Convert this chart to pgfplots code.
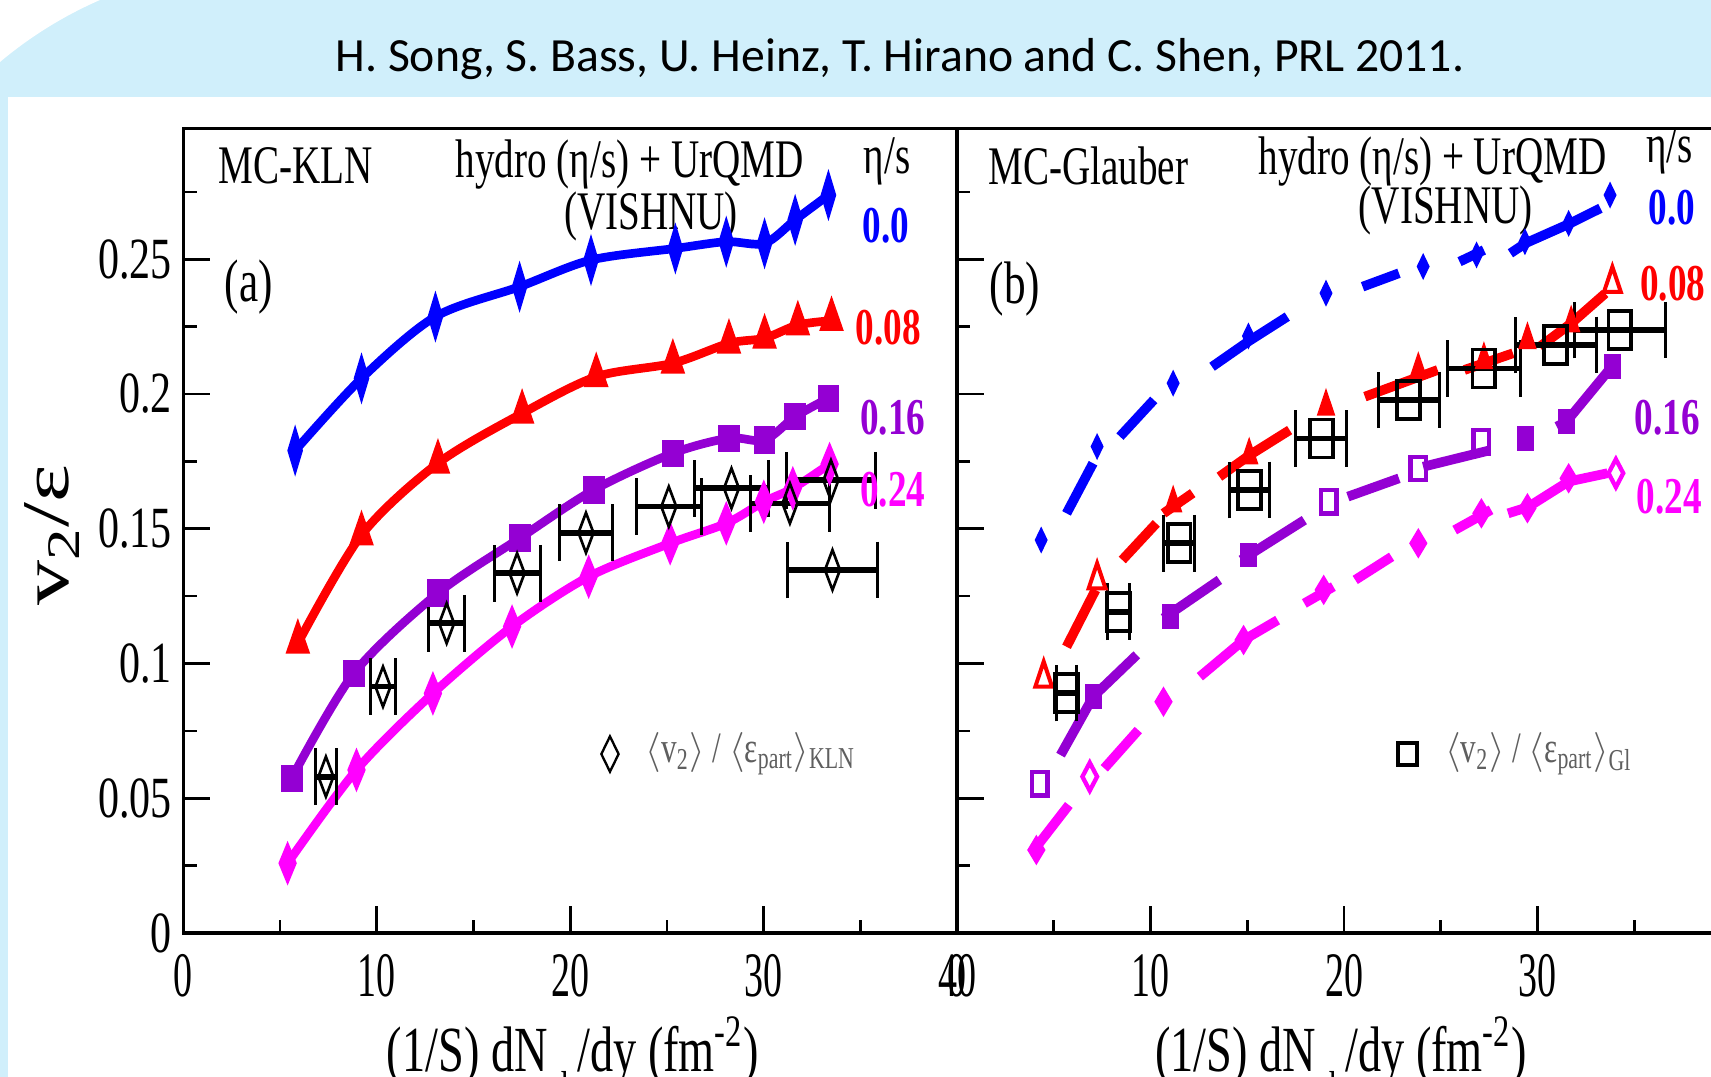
\documentclass[border=0pt]{standalone}
\usepackage{fontspec}
\setmainfont{Liberation Serif}[FakeStretch=0.72]
\newfontfamily\titlefont{Carlito}
\newfontfamily\narrowserif{Liberation Serif}[FakeStretch=0.6]
\newfontfamily\tallserif{Liberation Serif}[FakeStretch=1.35]
\usepackage{pgfplots}
\pgfplotsset{compat=1.18}

\definecolor{slide}{RGB}{208,239,251}
\definecolor{cblue}{RGB}{0,0,255}
\definecolor{cred}{RGB}{255,0,0}
\definecolor{cvio}{RGB}{148,0,211}
\definecolor{cmag}{RGB}{255,0,255}
\definecolor{legtext}{RGB}{95,95,95}

\newcommand{\labfont}{\fontsize{16.3}{18}\selectfont}
\newcommand{\valfont}{\bfseries\fontsize{15.5}{17}\selectfont}
\newcommand{\panfont}{\fontsize{18}{20}\selectfont}
\newcommand{\legfont}{\fontsize{13}{15}\selectfont}
\newcommand{\xlabfont}{\fontsize{19.3}{21}\selectfont}

\pgfplotsset{
  panel/.style={
    scale only axis, width=232.2pt, height=241.26pt,
    xmin=0, xmax=40, ymin=0, ymax=0.2984,
    xtick={0,10,20,30,40}, minor xtick={5,15,25,35},
    ytick={0,0.05,0.1,0.15,0.2,0.25},
    minor ytick={0.025,0.075,0.125,0.175,0.225,0.275},
    xtick pos=left, ytick pos=left, tick align=inside,
    major tick length=8pt, minor tick length=4pt,
    every tick/.style={black, line width=0.8pt},
    axis line style={line width=1pt},
    yticklabel style={font=\fontsize{17.5}{19}\selectfont},
    xticklabel style={font=\narrowserif\fontsize{19}{21}\selectfont, yshift=-3pt},
    xticklabels={0,10,20,30,40},
    unbounded coords=jump,
  },
  model/.style={line width=2.6pt},
  dash/.style={line width=2.9pt},
  xerr/.style={
    error bars/x dir=both, error bars/x explicit,
    error bars/error mark=|,
    error bars/error bar style={line width=1.7pt, black},
    error bars/error mark options={black, line width=0.9pt, mark size=8.5pt},
  },
}

\begin{document}
\begin{tikzpicture}
\path[use as bounding box] (0,0) rectangle (513.3pt,323.1pt);
\clip (0,0) rectangle (513.3pt,323.1pt);
\begin{scope}[x=0.3pt,y=0.3pt]
% slide background
\fill[slide] (0,0) rectangle (1711,1077);
\fill[white] (0,1077) -- (100,1077) arc[start angle=113.57, end angle=130.04, radius=410.7] -- cycle;
\fill[white] (7.5,0) rectangle (1711,980);
\node[anchor=base, inner sep=0pt, font=\titlefont\fontsize{14.3}{17}\selectfont] at (900,1005)
  {H. Song, S. Bass, U. Heinz, T. Hirano and C. Shen, PRL 2011.};
\end{scope}

% ---------------- panel (a): MC-KLN ----------------
\begin{axis}[panel, at={(54.99pt,43.2pt)}, anchor=south west,
  yticklabels={0,0.05,0.1,0.15,0.2,0.25}]

\addplot[cblue, model, smooth, mark=diamond*, mark size=3.3pt, mark options={xscale=0.4}] coordinates {
  (5.78,0.1790)(9.21,0.2058)(13.03,0.2287)(17.38,0.2398)(21.07,0.2497)
  (25.43,0.2540)(28.06,0.2565)(30.04,0.2559)(31.62,0.2646)(33.34,0.2738)};
\addplot[cred, model, smooth, mark=triangle*, mark size=3.6pt, mark options={xscale=0.6}] coordinates {
  (5.92,0.1075)(9.21,0.1477)(13.16,0.1743)(17.51,0.1928)(21.34,0.2064)
  (25.30,0.2114)(28.20,0.2188)(30.04,0.2207)(31.76,0.2256)(33.50,0.2272)};
\addplot[cvio, model, smooth, mark=square*, mark size=2.8pt, mark options={xscale=0.7}] coordinates {
  (5.60,0.0574)(8.82,0.0964)(13.16,0.1261)(17.39,0.1465)(21.21,0.1644)
  (25.30,0.1780)(28.20,0.1836)(30.04,0.1829)(31.62,0.1916)(33.34,0.1984)};
\addplot[cmag, model, smooth, mark=diamond*, mark size=3.3pt, mark options={xscale=0.55}] coordinates {
  (5.39,0.0259)(8.95,0.0605)(12.90,0.0889)(16.99,0.1137)(20.95,0.1322)
  (25.16,0.1446)(28.06,0.1520)(30.00,0.1600)(31.50,0.1650)(33.40,0.1740)};

% data <v2>/<eps_part> KLN
\addplot[only marks, black, mark=diamond, mark size=6pt,
  mark options={xscale=0.5, line width=0.8pt}, xerr] coordinates {
  (7.37,0.0580) +- (0.53,0)
  (10.32,0.0914) +- (0.67,0)
  (13.61,0.1149) +- (0.92,0)
  (17.25,0.1335) +- (1.19,0)
  (20.81,0.1485) +- (1.36,0)
  (25.09,0.1582) +- (1.67,0)
  (28.33,0.1650) +- (1.90,0)
  (31.35,0.1594) +- (2.04,0)
  (33.47,0.1680) +- (2.30,0)
  (33.55,0.1347) +- (2.30,0)};

\addplot[only marks, black, mark=diamond, mark size=5.3pt, mark options={xscale=0.65, line width=0.7pt}]
  coordinates {(22.05,0.0664)};
\node[anchor=west, inner sep=0pt, font=\legfont, text=legtext] at (23.86,0.0664)
  {$\langle$v\textsubscript{2}$\rangle$ / $\langle$ε\textsubscript{part}$\rangle$\textsubscript{KLN}};

\node[anchor=west, inner sep=0pt, font=\labfont] at (1.8,0.2846) {MC-KLN};
\node[inner sep=0pt, font=\labfont] at (23.07,0.2853) {hydro (η/s) + UrQMD};
\node[inner sep=0pt, font=\labfont] at (24.17,0.2660) {(VISHNU)};
\node[inner sep=0pt, font=\labfont] at (36.38,0.2863) {η/s};
\node[inner sep=0pt, font=\valfont, text=cblue] at (36.32,0.2624) {0.0};
\node[inner sep=0pt, font=\valfont, text=cred] at (36.43,0.2247) {0.08};
\node[inner sep=0pt, font=\valfont, text=cvio] at (36.66,0.1911) {0.16};
\node[inner sep=0pt, font=\valfont, text=cmag] at (36.66,0.1644) {0.24};
\node[inner sep=0pt, font=\panfont] at (3.38,0.2397) {(a)};
\end{axis}

% ---------------- panel (b): MC-Glauber ----------------
\begin{axis}[panel, at={(287.1pt,43.2pt)}, anchor=south west, yticklabels={}]

% dashed curves, one visible dash per run
\addplot[cblue, dash] coordinates {
  (5.66,0.1557)(7.03,0.1743) (nan,nan)
  (8.42,0.1842)(10.17,0.1978) (nan,nan)
  (13.18,0.2101)(15.06,0.2195)(17.07,0.2287) (nan,nan)
  (20.96,0.2398)(22.84,0.2448) (nan,nan)
  (25.97,0.2491)(27.23,0.2534) (nan,nan)
  (28.60,0.2522)(29.40,0.2560)(31.60,0.2630)(33.25,0.2689)};
\addplot[only marks, cblue, mark=diamond*, mark size=3.6pt, mark options={xscale=0.64}] coordinates {
  (4.35,0.1458)(7.24,0.1805)(11.17,0.2040)(15.06,0.2215)(19.07,0.2374)
  (24.09,0.2473)(26.85,0.2516)(29.35,0.2565)(31.61,0.2633)(33.75,0.2738)};

\addplot[cred, dash] coordinates {
  (5.66,0.1062)(7.16,0.1273) (nan,nan)
  (8.54,0.1384)(10.30,0.1520) (nan,nan)
  (10.67,0.1557)(12.18,0.1632) (nan,nan)
  (13.56,0.1693)(15.10,0.1772)(17.19,0.1866) (nan,nan)
  (21.08,0.1990)(24.84,0.2089) (nan,nan)
  (26.22,0.2089)(28.73,0.2151) (nan,nan)
  (30.11,0.2175)(31.74,0.2262)(33.50,0.2373)};
\addplot[only marks, cred, mark=triangle*, mark size=5pt, mark options={xscale=0.58}] coordinates {
  (11.17,0.1594)(15.10,0.1772)(19.07,0.1953)(23.84,0.2089)(27.23,0.2126)
  (29.48,0.2200)(31.74,0.2262)};
\addplot[only marks, cred, mark=triangle, mark size=5pt, mark options={xscale=0.58, line width=1.2pt, fill=white}] coordinates {
  (4.48,0.0945)(7.24,0.1310)(33.87,0.2410)};

\addplot[cvio, dash] coordinates {
  (5.35,0.0660)(7.04,0.0877)(9.29,0.1032) (nan,nan)
  (10.67,0.1168)(13.56,0.1310) (nan,nan)
  (14.69,0.1384)(17.95,0.1532) (nan,nan)
  (20.20,0.1619)(22.84,0.1687) (nan,nan)
  (24.09,0.1730)(27.48,0.1790) (nan,nan)
  (30.99,0.1879)(31.49,0.1897)(34.12,0.2126)};
\addplot[only marks, cvio, mark=square*, mark size=3.5pt, mark options={xscale=0.67}] coordinates {
  (7.04,0.0877)(11.05,0.1174)(15.06,0.1403)(29.36,0.1835)(31.49,0.1897)(33.87,0.2101)};
\addplot[only marks, cvio, mark=square, mark size=3.5pt, mark options={xscale=0.67, line width=1.3pt, fill=white}] coordinates {
  (4.28,0.0553)(19.20,0.1600)(23.84,0.1724)(27.10,0.1823)};

\addplot[cmag, dash] coordinates {
  (4.00,0.0310)(5.78,0.0475) (nan,nan)
  (7.61,0.0611)(9.37,0.0753) (nan,nan)
  (12.55,0.0951)(14.81,0.1087)(16.57,0.1161) (nan,nan)
  (17.95,0.1223)(19.45,0.1285) (nan,nan)
  (20.58,0.1310)(22.46,0.1396) (nan,nan)
  (25.72,0.1495)(27.60,0.1570) (nan,nan)
  (28.48,0.1557)(29.50,0.1580)(31.60,0.1675)(33.62,0.1706)};
\addplot[only marks, cmag, mark=diamond*, mark size=4.2pt, mark options={xscale=0.8}] coordinates {
  (4.10,0.0308)(10.67,0.0858)(14.81,0.1087)(18.95,0.1273)(23.84,0.1446)
  (27.10,0.1557)(29.48,0.1576)(31.61,0.1687)};
\addplot[only marks, cmag, mark=diamond, mark size=4.2pt, mark options={xscale=0.7, line width=1.3pt, fill=white}] coordinates {
  (6.86,0.0580)(34.05,0.1706)};

% data <v2>/<eps_part> Gl
\addplot[only marks, black, mark=square, mark size=5.7pt,
  mark options={xscale=0.6, line width=1.1pt}, xerr] coordinates {
  (5.66,0.0890) +- (0.50,0)
  (8.34,0.1192) +- (0.56,0)
  (11.48,0.1446) +- (0.81,0)
  (15.11,0.1644) +- (1.04,0)
  (18.83,0.1835) +- (1.32,0)
  (23.34,0.1978) +- (1.57,0)
  (27.23,0.2095) +- (1.88,0)
  (30.94,0.2182) +- (2.09,0)
  (34.25,0.2237) +- (2.35,0)};

\addplot[only marks, black, mark=square, mark size=3.3pt, mark options={xscale=0.87, line width=1.2pt}]
  coordinates {(23.30,0.0664)};
\node[anchor=west, inner sep=0pt, font=\legfont, text=legtext] at (25.2,0.0664)
  {$\langle$v\textsubscript{2}$\rangle$ / $\langle$ε\textsubscript{part}$\rangle$\textsubscript{Gl}};

\node[anchor=west, inner sep=0pt, font=\labfont] at (1.58,0.2846) {MC-Glauber};
\node[inner sep=0pt, font=\labfont] at (24.58,0.2863) {hydro (η/s) + UrQMD};
\node[inner sep=0pt, font=\labfont] at (25.26,0.2680) {(VISHNU)};
\node[inner sep=0pt, font=\labfont] at (36.82,0.2903) {η/s};
\node[inner sep=0pt, font=\valfont, text=cblue] at (36.94,0.2693) {0.0};
\node[inner sep=0pt, font=\valfont, text=cred] at (36.99,0.2410) {0.08};
\node[inner sep=0pt, font=\valfont, text=cvio] at (36.71,0.1911) {0.16};
\node[inner sep=0pt, font=\valfont, text=cmag] at (36.82,0.1620) {0.24};
\node[inner sep=0pt, font=\panfont] at (2.99,0.2389) {(b)};
\end{axis}

% axis titles
\begin{scope}[x=0.3pt,y=0.3pt]
\node[rotate=90, inner sep=0pt, font=\tallserif\fontsize{20}{22}\selectfont] at (52,542) {v\textsubscript{2}/ε};
\node[anchor=base, inner sep=0pt, font=\xlabfont] at (573,5)
  {(1/S) dN\raisebox{-9pt}{\fontsize{13}{14}\selectfont ch}/dy (fm\textsuperscript{-2})};
\node[anchor=base, inner sep=0pt, font=\xlabfont] at (1341,5)
  {(1/S) dN\raisebox{-9pt}{\fontsize{13}{14}\selectfont ch}/dy (fm\textsuperscript{-2})};
\end{scope}
\end{tikzpicture}
\end{document}
